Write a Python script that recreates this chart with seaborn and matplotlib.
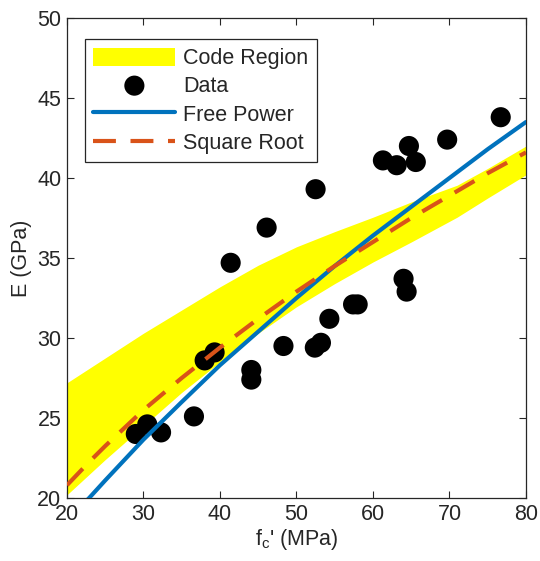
import matplotlib
matplotlib.use("Agg")
import matplotlib.pyplot as plt
import seaborn as sns
import pandas as pd

# Data points
fc_data = [76.7, 69.7, 64.7, 61.3, 63.1, 65.6, 52.5, 46.1, 41.4, 64.0, 64.4,
           57.4, 58.0, 54.3, 48.3, 52.4, 53.2, 39.3, 38.0, 44.1, 44.1, 36.6,
           30.5, 29.0, 32.3]
E_data = [43.8, 42.4, 42.0, 41.1, 40.8, 41.0, 39.3, 36.9, 34.7, 33.7, 32.9,
          32.1, 32.1, 31.2, 29.5, 29.4, 29.7, 29.1, 28.6, 28.0, 27.4, 25.1,
          24.6, 24.0, 24.1]

# Curves
fc_curve = [20, 22.9, 25, 30, 35, 40, 45, 50, 55, 60, 65, 70, 75, 80]
E_free_power = [18.6, 20.0, 21.1, 23.65, 26.0, 28.3, 30.4, 32.5, 34.5, 36.4, 38.2, 40.0, 41.8, 43.5]
E_sqrt = [20.8, 22.25, 23.25, 25.5, 27.5, 29.4, 31.2, 32.9, 34.5, 36.0, 37.5, 38.9, 40.3, 41.6]

fc_band = [20, 25, 30, 35, 40, 45, 50, 55, 60, 65, 71, 75, 80]
band_upper = [27.2, 28.75, 30.3, 31.75, 33.2, 34.55, 35.7, 36.65, 37.55, 38.5, 39.55, 40.6, 42.0]
band_lower = [20.2, 22.4, 24.5, 26.6, 28.5, 30.3, 31.95, 33.4, 34.75, 36.0, 37.55, 38.75, 40.2]

xticks = [20, 30, 40, 50, 60, 70, 80]
yticks = [20, 25, 30, 35, 40, 45, 50]

sns.set_style("ticks")
plt.rcParams['font.family'] = ['Liberation Sans', 'DejaVu Sans']
plt.rcParams['mathtext.fontset'] = 'custom'
plt.rcParams['mathtext.rm'] = 'Liberation Sans'

FS = 15.5
fig = plt.figure(figsize=(5.4, 5.61), dpi=100)
ax = fig.add_axes([0.124, 0.1123, 0.850, 0.8556])

ax.fill_between(fc_band, band_lower, band_upper, color="#FFFF00", linewidth=0,
                label="Code Region", zorder=1)

df_pts = pd.DataFrame({"fc": fc_data, "E": E_data})
sns.scatterplot(data=df_pts, x="fc", y="E", ax=ax, color="black", s=210,
                edgecolor="none", label="Data", zorder=2)

df_c = pd.DataFrame({"fc": fc_curve, "fp": E_free_power, "sq": E_sqrt})
sns.lineplot(data=df_c, x="fc", y="fp", ax=ax, color="#0072BD", linewidth=3.0,
             label="Free Power", zorder=3)
sns.lineplot(data=df_c, x="fc", y="sq", ax=ax, color="#D95319", linewidth=3.0,
             label="Square Root", zorder=4)
ax.lines[-1].set_dashes((5.5, 3.5))

ax.set_xlim(20, 80)
ax.set_ylim(20, 50)
ax.set_xticks(xticks)
ax.set_yticks(yticks)
ax.tick_params(direction="in", length=5, width=0.8, top=True, right=True,
               labelsize=FS, colors="#262626", pad=4)
for sp in ax.spines.values():
    sp.set_visible(True)
    sp.set_color("#262626")
    sp.set_linewidth(0.9)

ax.set_xlabel(r"f$_\mathregular{c}$' (MPa)", fontsize=FS, color="#262626", labelpad=2)
ax.set_ylabel("E (GPa)", fontsize=FS, color="#262626", labelpad=4)

leg = ax.legend(loc="upper left", bbox_to_anchor=(0.039, 0.956), borderaxespad=0,
                fontsize=FS, frameon=True, fancybox=False, edgecolor="#262626",
                handlelength=3.8, handleheight=0.9, labelspacing=0.32,
                handletextpad=0.35, borderpad=0.4)
leg.get_frame().set_linewidth(0.9)
leg.get_frame().set_alpha(1)

fig.savefig("out.png", dpi=100)
